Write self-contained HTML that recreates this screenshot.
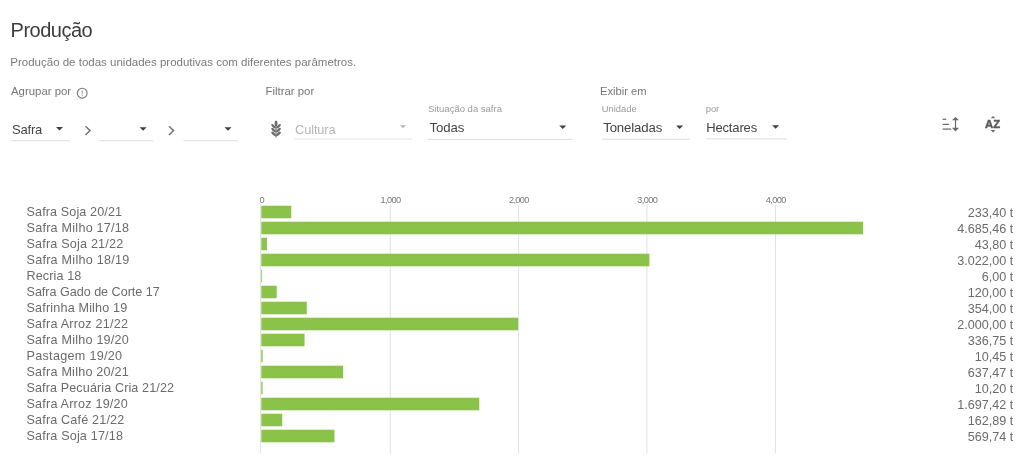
<!DOCTYPE html>
<html lang="pt-BR"><head><meta charset="utf-8"><title>Produção</title>
<style>
html,body{margin:0;padding:0;background:#fff;}
body{width:1024px;height:467px;position:relative;overflow:hidden;font-family:"Liberation Sans",Arial,sans-serif;}
.t{position:absolute;line-height:normal;white-space:nowrap;}
</style></head><body>
<svg style="position:absolute;left:0;top:0" width="1024" height="467" viewBox="0 0 1024 467"><rect x="260.00" y="204.5" width="1" height="249.0" fill="#e2e2e2"/><rect x="389.80" y="204.5" width="1" height="249.0" fill="#e2e2e2"/><rect x="518.10" y="204.5" width="1" height="249.0" fill="#e2e2e2"/><rect x="646.40" y="204.5" width="1" height="249.0" fill="#e2e2e2"/><rect x="775.00" y="204.5" width="1" height="249.0" fill="#e2e2e2"/><rect x="261.30" y="205.70" width="29.97" height="12.6" fill="#8bc34a"/><rect x="261.30" y="221.70" width="601.71" height="12.6" fill="#8bc34a"/><rect x="261.30" y="237.70" width="5.62" height="12.6" fill="#8bc34a"/><rect x="261.30" y="253.70" width="388.09" height="12.6" fill="#8bc34a"/><rect x="261.30" y="269.70" width="0.80" height="12.6" fill="#8bc34a"/><rect x="261.30" y="285.70" width="15.41" height="12.6" fill="#8bc34a"/><rect x="261.30" y="301.70" width="45.46" height="12.6" fill="#8bc34a"/><rect x="261.30" y="317.70" width="256.84" height="12.6" fill="#8bc34a"/><rect x="261.30" y="333.70" width="43.25" height="12.6" fill="#8bc34a"/><rect x="261.30" y="349.70" width="1.34" height="12.6" fill="#8bc34a"/><rect x="261.30" y="365.70" width="81.86" height="12.6" fill="#8bc34a"/><rect x="261.30" y="381.70" width="1.31" height="12.6" fill="#8bc34a"/><rect x="261.30" y="397.70" width="217.98" height="12.6" fill="#8bc34a"/><rect x="261.30" y="413.70" width="20.92" height="12.6" fill="#8bc34a"/><rect x="261.30" y="429.70" width="73.17" height="12.6" fill="#8bc34a"/></svg>
<div id="title" class="t" style="left:10.60px;top:19.00px;font-size:20px;color:#3c3c3c;letter-spacing:-0.5px;">Produção</div>
<div id="sub" class="t" style="left:10.30px;top:56.00px;font-size:11.5px;color:#7a7a7a;">Produção de todas unidades produtivas com diferentes parâmetros.</div>
<div id="agr" class="t" style="left:11.00px;top:85.00px;font-size:11.4px;color:#777;">Agrupar por</div>
<svg style="position:absolute;left:76px;top:87px" width="13" height="13" viewBox="0 0 13 13"><circle cx="6.2" cy="6.2" r="4.9" fill="none" stroke="#777" stroke-width="1.1"/><line x1="6.2" y1="3.6" x2="6.2" y2="6.6" stroke="#888" stroke-width="1"/><line x1="6.2" y1="7.6" x2="6.2" y2="8.8" stroke="#888" stroke-width="1"/></svg>
<div id="fil" class="t" style="left:265.50px;top:85.00px;font-size:11.4px;color:#777;">Filtrar por</div>
<div id="exi" class="t" style="left:600.00px;top:85.00px;font-size:11.2px;color:#777;">Exibir em</div>
<div id="sit" class="t" style="left:428.00px;top:103.00px;font-size:9.5px;color:#9a9a9a;">Situação da safra</div>
<div id="uni" class="t" style="left:601.80px;top:103.00px;font-size:9.4px;color:#9a9a9a;">Unidade</div>
<div id="por" class="t" style="left:705.70px;top:103.00px;font-size:9.4px;color:#9a9a9a;">por</div>
<div id="safra" class="t" style="left:12.00px;top:122.00px;font-size:13.0px;color:#444;letter-spacing:-0.2px;">Safra</div>
<div id="cult" class="t" style="left:295.00px;top:122.00px;font-size:12.8px;color:#b5b5b5;letter-spacing:-0.1px;">Cultura</div>
<div id="todas" class="t" style="left:429.50px;top:120.00px;font-size:13.2px;color:#444;letter-spacing:-0.1px;">Todas</div>
<div id="ton" class="t" style="left:603.20px;top:120.00px;font-size:13.2px;color:#444;letter-spacing:-0.12px;">Toneladas</div>
<div id="hec" class="t" style="left:706.20px;top:120.00px;font-size:13.0px;color:#444;letter-spacing:-0.15px;">Hectares</div>
<svg style="position:absolute;left:0;top:0" width="1024" height="200" viewBox="0 0 1024 200"><polygon points="56.00,127.00 63.00,127.00 59.50,130.60" fill="#404040"/><polygon points="139.60,127.20 146.60,127.20 143.10,130.70" fill="#404040"/><polygon points="224.50,127.20 231.50,127.20 228.00,130.70" fill="#404040"/><polygon points="559.25,125.40 566.25,125.40 562.75,128.90" fill="#404040"/><polygon points="676.10,125.40 683.10,125.40 679.60,128.90" fill="#404040"/><polygon points="772.10,125.30 779.10,125.30 775.60,128.80" fill="#404040"/><polygon points="399.90,125.20 405.90,125.20 402.90,128.00" fill="#b0b0b0"/><rect x="11.20" y="140.20" width="58.80" height="1" fill="#dedede"/><rect x="99.40" y="140.20" width="53.90" height="1" fill="#dedede"/><rect x="183.30" y="140.20" width="55.10" height="1" fill="#dedede"/><rect x="428.00" y="138.90" width="144.30" height="1" fill="#dedede"/><rect x="601.80" y="138.70" width="88.20" height="1" fill="#dedede"/><rect x="706.20" y="138.40" width="80.80" height="1" fill="#dedede"/><line x1="294.4" y1="139" x2="412.3" y2="139" stroke="#c8c8c8" stroke-width="1" stroke-dasharray="1 1"/><path transform="translate(84.90,125.6)" d="M0.6 0.6 L5.2 5.0 L0.6 9.4" fill="none" stroke="#767676" stroke-width="1.5"/><path transform="translate(168.40,125.6)" d="M0.6 0.6 L5.2 5.0 L0.6 9.4" fill="none" stroke="#767676" stroke-width="1.5"/></svg>
<svg style="position:absolute;left:266px;top:118px" width="22" height="22" viewBox="0 0 22 22" fill="#6a6a6a">
<rect x="9.5" y="6" width="1.1" height="13.4"/>
<ellipse cx="10.05" cy="5.4" rx="1.45" ry="3"/>
<g transform="translate(7.6,8.3) rotate(42)"><ellipse cx="0" cy="0" rx="3.0" ry="1.2"/></g>
<g transform="translate(12.5,8.3) rotate(-42)"><ellipse cx="0" cy="0" rx="3.0" ry="1.2"/></g>
<g transform="translate(7.6,12.1) rotate(42)"><ellipse cx="0" cy="0" rx="3.0" ry="1.2"/></g>
<g transform="translate(12.5,12.1) rotate(-42)"><ellipse cx="0" cy="0" rx="3.0" ry="1.2"/></g>
<g transform="translate(7.6,15.9) rotate(42)"><ellipse cx="0" cy="0" rx="3.0" ry="1.2"/></g>
<g transform="translate(12.5,15.9) rotate(-42)"><ellipse cx="0" cy="0" rx="3.0" ry="1.2"/></g>
</svg>
<svg style="position:absolute;left:940px;top:115px" width="22" height="19" viewBox="0 0 22 19">
<g stroke="#6a6a6a" stroke-width="1.25" fill="none"><line x1="2.6" y1="4.3" x2="6.2" y2="4.3"/><line x1="2.6" y1="9.4" x2="8.9" y2="9.4"/><line x1="2.6" y1="14.1" x2="11.2" y2="14.1"/><line x1="15.5" y1="4" x2="15.5" y2="14"/></g>
<path d="M11.9 5.3 L15.5 1.9 L19.1 5.3Z M11.9 12.8 L15.5 16.4 L19.1 12.8Z" fill="#6a6a6a"/>
</svg>
<div id="az" class="t" style="left:984.90px;top:118.00px;font-size:11.3px;color:#5a5a5a;font-weight:bold;-webkit-text-stroke:0.45px #5a5a5a;letter-spacing:0.1px;">AZ</div>
<svg style="position:absolute;left:988px;top:115px" width="10" height="19" viewBox="0 0 10 19"><path d="M2.7 3.3 L5 0.9 L7.3 3.3Z M2.7 15.1 L5 17.6 L7.3 15.1Z" fill="#6a6a6a"/></svg>
<div id="ax0" class="t" style="left:231.80px;width:60px;text-align:center;top:195px;font-size:9.2px;letter-spacing:-0.6px;color:#777">0</div>
<div id="ax1" class="t" style="left:360.60px;width:60px;text-align:center;top:195px;font-size:9.2px;letter-spacing:-0.6px;color:#777">1,000</div>
<div id="ax2" class="t" style="left:488.90px;width:60px;text-align:center;top:195px;font-size:9.2px;letter-spacing:-0.6px;color:#777">2,000</div>
<div id="ax3" class="t" style="left:617.20px;width:60px;text-align:center;top:195px;font-size:9.2px;letter-spacing:-0.6px;color:#777">3,000</div>
<div id="ax4" class="t" style="left:745.80px;width:60px;text-align:center;top:195px;font-size:9.2px;letter-spacing:-0.6px;color:#777">4,000</div>
<div id="lab0" class="t" style="left:26.50px;top:205.00px;font-size:12.6px;color:#6b6b6b;letter-spacing:0.113px;">Safra Soja 20/21</div>
<div id="val0" class="t" style="right:10.80px;top:206.00px;font-size:12.6px;color:#6b6b6b;">233,40 t</div>
<div id="lab1" class="t" style="left:26.50px;top:221.00px;font-size:12.6px;color:#6b6b6b;letter-spacing:0.244px;">Safra Milho 17/18</div>
<div id="val1" class="t" style="right:10.80px;top:222.00px;font-size:12.6px;color:#6b6b6b;">4.685,46 t</div>
<div id="lab2" class="t" style="left:26.50px;top:237.00px;font-size:12.6px;color:#6b6b6b;letter-spacing:0.193px;">Safra Soja 21/22</div>
<div id="val2" class="t" style="right:10.80px;top:238.00px;font-size:12.6px;color:#6b6b6b;">43,80 t</div>
<div id="lab3" class="t" style="left:26.50px;top:253.00px;font-size:12.6px;color:#6b6b6b;letter-spacing:0.25px;">Safra Milho 18/19</div>
<div id="val3" class="t" style="right:10.80px;top:254.00px;font-size:12.6px;color:#6b6b6b;">3.022,00 t</div>
<div id="lab4" class="t" style="left:26.50px;top:269.00px;font-size:12.6px;color:#6b6b6b;letter-spacing:0.113px;">Recria 18</div>
<div id="val4" class="t" style="right:10.80px;top:270.00px;font-size:12.6px;color:#6b6b6b;">6,00 t</div>
<div id="lab5" class="t" style="left:26.50px;top:285.00px;font-size:12.6px;color:#6b6b6b;letter-spacing:-0.024px;">Safra Gado de Corte 17</div>
<div id="val5" class="t" style="right:10.80px;top:286.00px;font-size:12.6px;color:#6b6b6b;">120,00 t</div>
<div id="lab6" class="t" style="left:26.50px;top:301.00px;font-size:12.6px;color:#6b6b6b;letter-spacing:0.175px;">Safrinha Milho 19</div>
<div id="val6" class="t" style="right:10.80px;top:302.00px;font-size:12.6px;color:#6b6b6b;">354,00 t</div>
<div id="lab7" class="t" style="left:26.50px;top:317.00px;font-size:12.6px;color:#6b6b6b;letter-spacing:0.212px;">Safra Arroz 21/22</div>
<div id="val7" class="t" style="right:10.80px;top:318.00px;font-size:12.6px;color:#6b6b6b;">2.000,00 t</div>
<div id="lab8" class="t" style="left:26.50px;top:333.00px;font-size:12.6px;color:#6b6b6b;letter-spacing:0.225px;">Safra Milho 19/20</div>
<div id="val8" class="t" style="right:10.80px;top:334.00px;font-size:12.6px;color:#6b6b6b;">336,75 t</div>
<div id="lab9" class="t" style="left:26.50px;top:349.00px;font-size:12.6px;color:#6b6b6b;letter-spacing:0.3px;">Pastagem 19/20</div>
<div id="val9" class="t" style="right:10.80px;top:350.00px;font-size:12.6px;color:#6b6b6b;">10,45 t</div>
<div id="lab10" class="t" style="left:26.50px;top:365.00px;font-size:12.6px;color:#6b6b6b;letter-spacing:0.219px;">Safra Milho 20/21</div>
<div id="val10" class="t" style="right:10.80px;top:366.00px;font-size:12.6px;color:#6b6b6b;">637,47 t</div>
<div id="lab11" class="t" style="left:26.50px;top:381.00px;font-size:12.6px;color:#6b6b6b;letter-spacing:0.108px;">Safra Pecuária Cria 21/22</div>
<div id="val11" class="t" style="right:10.80px;top:382.00px;font-size:12.6px;color:#6b6b6b;">10,20 t</div>
<div id="lab12" class="t" style="left:26.50px;top:397.00px;font-size:12.6px;color:#6b6b6b;letter-spacing:0.203px;">Safra Arroz 19/20</div>
<div id="val12" class="t" style="right:10.80px;top:398.00px;font-size:12.6px;color:#6b6b6b;">1.697,42 t</div>
<div id="lab13" class="t" style="left:26.50px;top:413.00px;font-size:12.6px;color:#6b6b6b;letter-spacing:0.167px;">Safra Café 21/22</div>
<div id="val13" class="t" style="right:10.80px;top:414.00px;font-size:12.6px;color:#6b6b6b;">162,89 t</div>
<div id="lab14" class="t" style="left:26.50px;top:429.00px;font-size:12.6px;color:#6b6b6b;letter-spacing:0.173px;">Safra Soja 17/18</div>
<div id="val14" class="t" style="right:10.80px;top:430.00px;font-size:12.6px;color:#6b6b6b;">569,74 t</div>
</body></html>
